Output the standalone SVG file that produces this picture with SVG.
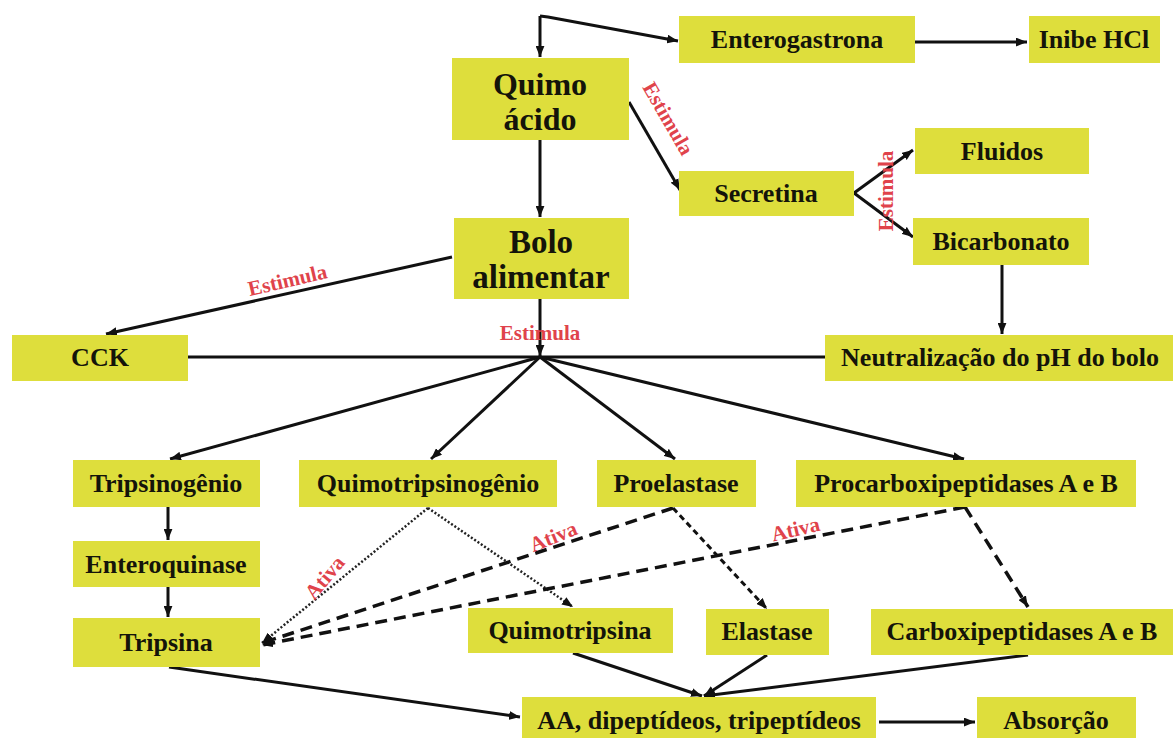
<svg xmlns="http://www.w3.org/2000/svg" width="1173" height="738" viewBox="0 0 1173 738">
<style>
.box{fill:#DEDE3C;}
.t{font-family:"Liberation Serif","Times New Roman",serif;font-weight:bold;font-size:26px;fill:#14140a;text-anchor:middle;}
.big{font-size:33px;}
.lbl{font-family:"Liberation Serif","Times New Roman",serif;font-weight:bold;font-size:21px;fill:#E0434B;text-anchor:middle;}
.c{fill:none;stroke:#111;stroke-width:3;}
.dot{fill:none;stroke:#222;stroke-width:2.5;stroke-dasharray:2 2;}
.dash{fill:none;stroke:#111;stroke-width:3.5;stroke-dasharray:12 7;}
.dash2{fill:none;stroke:#111;stroke-width:3;stroke-dasharray:6 4;}
</style>
<defs>
<marker id="ah" viewBox="0 0 10 8" refX="10" refY="4" markerWidth="11" markerHeight="9" markerUnits="userSpaceOnUse" orient="auto">
<path d="M0,0 L10,4 L0,8 z" fill="#111"/>
</marker>
</defs>
<rect width="1173" height="738" fill="#fff"/>

<g id="connectors">
<path class="c" d="M540,16 L540,57" marker-end="url(#ah)"/>
<path class="c" d="M540,16 L548,17 L678,41" marker-end="url(#ah)"/>
<path class="c" d="M915,42 L1027,42" marker-end="url(#ah)"/>
<path class="c" d="M540,140 L540,217" marker-end="url(#ah)"/>
<path class="c" d="M629,102 L680,190" marker-end="url(#ah)"/>
<path class="c" d="M854,193 L913,150" marker-end="url(#ah)"/>
<path class="c" d="M854,193 L913,237" marker-end="url(#ah)"/>
<path class="c" d="M1002,265 L1002,334" marker-end="url(#ah)"/>
<path class="c" d="M452,257 L106,334" marker-end="url(#ah)"/>
<path class="c" d="M540,299 L540,356" marker-end="url(#ah)"/>
<path class="c" d="M188,357 L825,357"/>
<path class="c" d="M540,357 L170,459" marker-end="url(#ah)"/>
<path class="c" d="M540,357 L431,459" marker-end="url(#ah)"/>
<path class="c" d="M540,357 L675,459" marker-end="url(#ah)"/>
<path class="c" d="M540,357 L964,459" marker-end="url(#ah)"/>
<path class="c" d="M168,507 L168,540" marker-end="url(#ah)"/>
<path class="c" d="M168,587 L168,617" marker-end="url(#ah)"/>
<path class="dot" d="M428,508 L262,643" marker-end="url(#ah)"/>
<path class="dot" d="M428,508 L573,607" marker-end="url(#ah)"/>
<path class="dash" d="M673,508 L262,643" marker-end="url(#ah)"/>
<path class="dash2" d="M673,508 L767,609" marker-end="url(#ah)"/>
<path class="dash" d="M965,507 L262,645" marker-end="url(#ah)"/>
<path class="dash" d="M965,507 L1028,607" marker-end="url(#ah)"/>
<path class="c" d="M169,667 L520,717" marker-end="url(#ah)"/>
<path class="c" d="M573,653 L702,696" marker-end="url(#ah)"/>
<path class="c" d="M767,655 L704,696" marker-end="url(#ah)"/>
<path class="c" d="M1028,655 L704,696" marker-end="url(#ah)"/>
<path class="c" d="M879,722 L975,722" marker-end="url(#ah)"/>
<text class="lbl" transform="translate(662,122) rotate(60)">Estimula</text>
<text class="lbl" transform="translate(893,191) rotate(-90)">Estimula</text>
<text class="lbl" transform="translate(289,287) rotate(-13)">Estimula</text>
<text class="lbl" x="540" y="340">Estimula</text>
<text class="lbl" transform="translate(330,582) rotate(-50)">Ativa</text>
<text class="lbl" transform="translate(556,543) rotate(-22)">Ativa</text>
<text class="lbl" transform="translate(797,536) rotate(-13)">Ativa</text>
</g>

<g id="enterogastrona"><rect class="box" x="679" y="16" width="236" height="47"/><text class="t" x="797" y="48">Enterogastrona</text></g>
<g id="inibe"><rect class="box" x="1029" y="16" width="131" height="47"/><text class="t" x="1094" y="48">Inibe HCl</text></g>
<g id="quimo"><rect class="box" x="452" y="58" width="177" height="82"/><text class="t" style="font-size:32px" x="540" y="95">Quimo</text><text class="t" style="font-size:32px" x="540" y="130">ácido</text></g>
<g id="secretina"><rect class="box" x="679" y="171" width="175" height="45"/><text class="t" x="766" y="202">Secretina</text></g>
<g id="fluidos"><rect class="box" x="915" y="128" width="174" height="46"/><text class="t" x="1002" y="160">Fluidos</text></g>
<g id="bicarbonato"><rect class="box" x="913" y="218" width="176" height="47"/><text class="t" x="1001" y="250">Bicarbonato</text></g>
<g id="bolo"><rect class="box" x="454" y="218" width="175" height="81"/><text class="t big" x="541" y="253">Bolo</text><text class="t big" x="541" y="288">alimentar</text></g>
<g id="cck"><rect class="box" x="12" y="335" width="176" height="46"/><text class="t" x="100" y="366">CCK</text></g>
<g id="neutralizacao"><rect class="box" x="825" y="335" width="348" height="46"/><text class="t" x="1000" y="366">Neutralização do pH do bolo</text></g>
<g id="tripsinogenio"><rect class="box" x="73" y="460" width="187" height="47"/><text class="t" x="166" y="492">Tripsinogênio</text></g>
<g id="quimotripsinogenio"><rect class="box" x="299" y="460" width="258" height="47"/><text class="t" x="428" y="492">Quimotripsinogênio</text></g>
<g id="proelastase"><rect class="box" x="597" y="460" width="159" height="47"/><text class="t" x="676" y="492">Proelastase</text></g>
<g id="procarboxipeptidases"><rect class="box" x="796" y="460" width="340" height="47"/><text class="t" x="966" y="492">Procarboxipeptidases A e B</text></g>
<g id="enteroquinase"><rect class="box" x="73" y="541" width="187" height="46"/><text class="t" x="166" y="573">Enteroquinase</text></g>
<g id="tripsina"><rect class="box" x="73" y="618" width="187" height="49"/><text class="t" x="166" y="651">Tripsina</text></g>
<g id="quimotripsina"><rect class="box" x="468" y="608" width="205" height="45"/><text class="t" x="570" y="639">Quimotripsina</text></g>
<g id="elastase"><rect class="box" x="706" y="609" width="123" height="46"/><text class="t" x="767" y="640">Elastase</text></g>
<g id="carboxipeptidases"><rect class="box" x="871" y="609" width="302" height="46"/><text class="t" x="1022" y="640">Carboxipeptidases A e B</text></g>
<g id="aa"><rect class="box" x="522" y="697" width="354" height="41"/><text class="t" x="699" y="729">AA, dipeptídeos, tripeptídeos</text></g>
<g id="absorcao"><rect class="box" x="977" y="697" width="159" height="41"/><text class="t" x="1056" y="729">Absorção</text></g>
</svg>
